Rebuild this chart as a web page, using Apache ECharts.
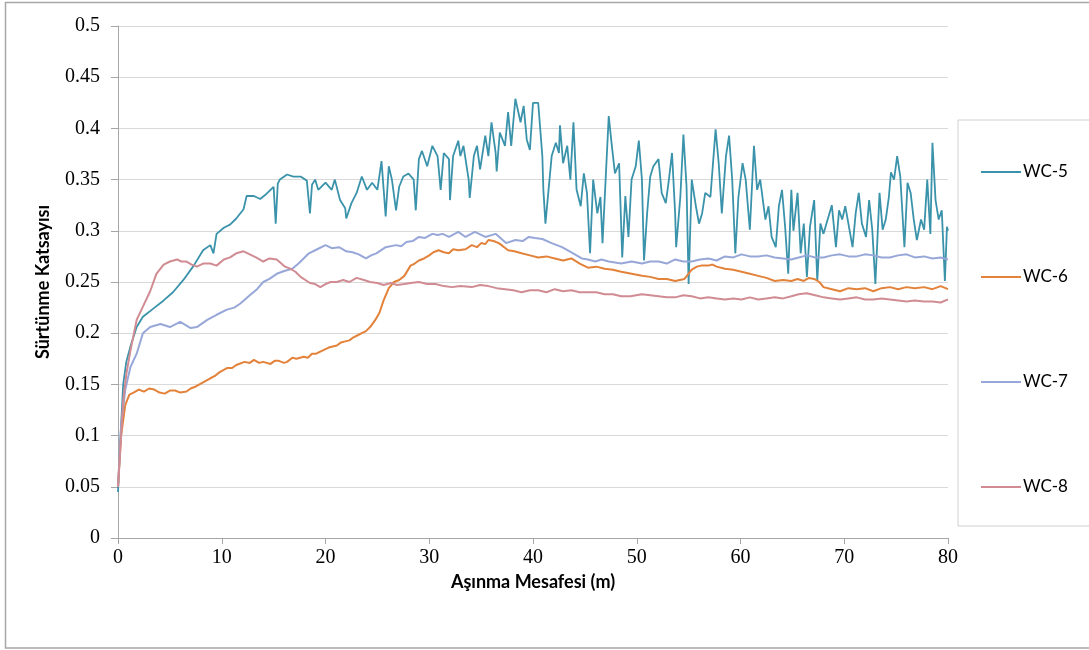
<!DOCTYPE html>
<html>
<head>
<meta charset="utf-8">
<script src="https://cdn.jsdelivr.net/npm/echarts@6/dist/echarts.min.js"></script>
<style>
  html, body { margin: 0; padding: 0; background: #ffffff; }
  #chart { width: 1089px; height: 650px; }
</style>
</head>
<body>
<div id="chart"></div>
<script>
// Friction coefficient vs. wear distance, pairs of [distance (m), coefficient]
const seriesNames = ['WC-5', 'WC-6', 'WC-7', 'WC-8'];

const wc5 = [
  [0,0.045],[0.2,0.09],[0.5,0.15],[0.8,0.172],[1.2,0.187],[1.8,0.206],[2.4,0.216],[3.4,0.224],[4.4,0.232],
  [5.3,0.24],[6.3,0.252],[7.3,0.266],[8.2,0.281],[8.9,0.286],[9.2,0.278],[9.5,0.297],[10.2,0.303],[10.8,0.306],
  [11.4,0.312],[12.1,0.321],[12.4,0.334],[13.1,0.334],[13.7,0.331],[14.3,0.336],[15,0.343],[15.2,0.307],
  [15.4,0.346],[15.6,0.35],[16.3,0.355],[16.9,0.353],[17.6,0.353],[18.2,0.349],[18.5,0.317],[18.7,0.345],
  [19,0.35],[19.3,0.34],[20,0.347],[20.6,0.34],[20.9,0.35],[21.4,0.33],[21.9,0.322],[22,0.312],[22.5,0.327],
  [23,0.337],[23.5,0.353],[24,0.34],[24.5,0.347],[25,0.34],[25.4,0.368],[25.8,0.314],[26.1,0.363],[26.4,0.35],
  [26.8,0.32],[27.1,0.343],[27.5,0.353],[28,0.356],[28.5,0.35],[28.7,0.32],[29,0.37],[29.3,0.378],[29.8,0.363],
  [30.3,0.383],[30.8,0.373],[31.1,0.34],[31.4,0.376],[31.9,0.37],[32,0.33],[32.3,0.373],[32.8,0.388],[33,0.373],
  [33.3,0.383],[33.8,0.35],[33.9,0.332],[34.3,0.373],[34.6,0.383],[34.9,0.36],[35.4,0.393],[35.7,0.373],
  [36,0.406],[36.4,0.376],[36.5,0.358],[36.8,0.396],[37.3,0.383],[37.6,0.416],[37.9,0.383],[38.3,0.429],
  [38.8,0.406],[39.1,0.422],[39.4,0.389],[39.7,0.379],[40,0.425],[40.5,0.425],[40.7,0.399],[40.9,0.373],
  [41,0.34],[41.2,0.307],[41.5,0.34],[41.8,0.373],[42.2,0.386],[42.5,0.376],[42.6,0.403],[42.9,0.366],
  [43.3,0.383],[43.6,0.35],[43.9,0.406],[44.2,0.34],[44.6,0.324],[44.9,0.356],[45.2,0.337],[45.5,0.278],
  [45.8,0.35],[46.2,0.317],[46.5,0.333],[46.7,0.288],[47,0.35],[47.3,0.412],[47.6,0.383],[47.9,0.356],
  [48.3,0.366],[48.6,0.274],[48.9,0.334],[49.2,0.294],[49.5,0.35],[49.9,0.363],[50.2,0.388],[50.5,0.35],
  [50.7,0.271],[51,0.317],[51.3,0.353],[51.6,0.363],[52.1,0.37],[52.4,0.337],[52.8,0.327],[53.1,0.35],
  [53.4,0.376],[53.7,0.317],[53.8,0.284],[54.2,0.333],[54.5,0.394],[54.8,0.343],[55,0.248],[55.3,0.35],
  [55.7,0.324],[56,0.307],[56.3,0.317],[56.6,0.337],[57.1,0.333],[57.6,0.399],[57.9,0.366],[58.2,0.317],
  [58.6,0.373],[58.9,0.393],[59.2,0.35],[59.5,0.278],[59.8,0.333],[60.2,0.366],[60.5,0.35],[60.9,0.301],
  [61.3,0.383],[61.6,0.34],[61.9,0.35],[62.4,0.311],[62.7,0.324],[63,0.294],[63.4,0.284],[63.7,0.324],
  [64,0.34],[64.3,0.304],[64.6,0.258],[64.9,0.34],[65.1,0.3],[65.5,0.337],[65.8,0.278],[66.1,0.307],
  [66.4,0.255],[66.7,0.304],[67.1,0.33],[67.4,0.251],[67.7,0.307],[68,0.297],[68.4,0.311],[68.8,0.325],
  [69.2,0.284],[69.5,0.32],[69.8,0.311],[70.1,0.324],[70.4,0.307],[70.8,0.284],[71.1,0.317],[71.4,0.337],
  [71.7,0.307],[72.1,0.294],[72.4,0.33],[72.7,0.301],[73,0.248],[73.4,0.337],[73.7,0.301],[74,0.311],
  [74.3,0.333],[74.5,0.357],[74.8,0.35],[75.1,0.373],[75.4,0.353],[75.8,0.284],[76.1,0.347],[76.4,0.337],
  [76.7,0.311],[77,0.291],[77.4,0.311],[77.7,0.301],[78,0.35],[78.3,0.297],[78.5,0.386],[78.8,0.33],
  [79.1,0.311],[79.4,0.32],[79.7,0.251],[79.9,0.304],[80,0.3]
];

const wc6 = [
  [0,0.05],[0.3,0.1],[0.7,0.13],[1.1,0.14],[1.5,0.142],[2,0.145],[2.5,0.143],[3,0.146],[3.5,0.145],
  [4,0.142],[4.5,0.141],[5,0.144],[5.5,0.144],[6,0.142],[6.6,0.143],[7,0.146],[7.5,0.148],[8.2,0.152],
  [8.9,0.156],[9.3,0.158],[9.8,0.162],[10.5,0.166],[11,0.166],[11.4,0.169],[12.2,0.172],[12.7,0.171],
  [13.1,0.174],[13.6,0.171],[14,0.172],[14.7,0.17],[15.1,0.173],[15.5,0.173],[16,0.171],[16.3,0.172],
  [16.8,0.176],[17.2,0.175],[17.9,0.177],[18.3,0.176],[18.7,0.18],[19.1,0.18],[19.5,0.182],[20.3,0.186],
  [21.1,0.188],[21.5,0.191],[21.9,0.192],[22.3,0.193],[22.7,0.196],[23.1,0.198],[23.5,0.2],[23.9,0.202],
  [24.3,0.206],[24.8,0.213],[25.2,0.22],[25.6,0.232],[26.1,0.244],[26.6,0.25],[27.1,0.252],[27.6,0.256],
  [28.2,0.266],[28.6,0.268],[29,0.271],[29.5,0.273],[30,0.276],[30.4,0.279],[30.9,0.281],[31.4,0.279],
  [31.9,0.278],[32.3,0.282],[32.8,0.281],[33.5,0.282],[34.1,0.286],[34.6,0.284],[35,0.288],[35.4,0.287],
  [35.7,0.291],[36.2,0.29],[36.7,0.288],[37.1,0.285],[37.6,0.281],[38.2,0.28],[38.9,0.278],[39.7,0.276],
  [40.5,0.274],[41.3,0.275],[42.1,0.273],[42.9,0.271],[43.7,0.273],[44.5,0.268],[45.3,0.264],[46.1,0.265],
  [46.9,0.263],[47.7,0.262],[48.5,0.26],[49.5,0.258],[50.5,0.256],[51.3,0.255],[52.1,0.253],[52.9,0.253],
  [53.7,0.251],[54.6,0.253],[55.3,0.262],[55.8,0.265],[56.2,0.266],[56.9,0.266],[57.3,0.267],[57.7,0.265],
  [58.5,0.263],[59.3,0.262],[60.1,0.26],[60.9,0.258],[61.7,0.256],[62.5,0.254],[63.3,0.251],[64.1,0.252],
  [64.9,0.251],[65.5,0.253],[66.1,0.251],[66.6,0.254],[67.1,0.253],[67.6,0.25],[68,0.245],[68.8,0.243],
  [69.6,0.241],[70.4,0.244],[71.2,0.243],[72,0.244],[72.8,0.241],[73.6,0.244],[74.4,0.245],[75.2,0.243],
  [76,0.245],[76.8,0.244],[77.7,0.245],[78.5,0.243],[79.3,0.246],[80,0.243]
];

const wc7 = [
  [0,0.05],[0.3,0.11],[0.7,0.145],[1.2,0.167],[1.8,0.18],[2.4,0.2],[3.1,0.206],[4.1,0.209],[5,0.206],
  [6,0.211],[7,0.205],[7.6,0.206],[8.6,0.213],[9.5,0.218],[10.5,0.223],[11.2,0.225],[11.8,0.229],[12.7,0.237],
  [13.4,0.243],[14,0.25],[14.6,0.253],[15.3,0.258],[16.1,0.261],[16.8,0.263],[17.4,0.268],[18.4,0.278],
  [19.2,0.282],[20,0.286],[20.6,0.283],[21.3,0.284],[22,0.28],[22.6,0.279],[23.2,0.277],[23.9,0.273],
  [24.4,0.276],[24.9,0.278],[25.8,0.284],[26.8,0.286],[27.3,0.285],[27.8,0.289],[28.4,0.29],[29,0.294],
  [29.6,0.293],[30.3,0.297],[30.8,0.296],[31.3,0.297],[31.9,0.294],[32.8,0.299],[33.5,0.294],[34.4,0.299],
  [35.4,0.294],[36.4,0.297],[37.4,0.288],[38.3,0.291],[39,0.29],[39.6,0.294],[40.2,0.293],[40.9,0.292],
  [41.8,0.288],[42.8,0.284],[43.7,0.279],[44.7,0.273],[45.3,0.272],[46,0.27],[46.6,0.272],[47.3,0.27],
  [48.5,0.268],[49.5,0.27],[50.5,0.268],[51.3,0.27],[52.1,0.27],[52.9,0.268],[53.7,0.272],[54.5,0.27],
  [55.3,0.27],[56.1,0.272],[56.9,0.273],[57.7,0.271],[58.5,0.275],[59.3,0.274],[60.1,0.277],[60.9,0.275],
  [61.7,0.275],[62.5,0.276],[63.3,0.274],[64.1,0.273],[64.9,0.272],[65.6,0.274],[66.4,0.276],[67.2,0.274],
  [68,0.274],[68.8,0.276],[69.6,0.277],[70.4,0.275],[71.2,0.275],[72,0.277],[72.8,0.276],[73.6,0.274],
  [74.4,0.274],[75.2,0.276],[76,0.277],[76.8,0.274],[77.7,0.275],[78.5,0.273],[79.3,0.274],[80,0.272]
];

const wc8 = [
  [0,0.05],[0.3,0.1],[0.5,0.134],[0.8,0.16],[1.2,0.183],[1.8,0.213],[2.4,0.226],[3.1,0.241],[3.7,0.258],
  [4.4,0.267],[5,0.27],[5.7,0.272],[6.1,0.27],[6.6,0.27],[7.1,0.267],[7.6,0.265],[8.2,0.268],[8.9,0.268],
  [9.5,0.266],[10.2,0.272],[10.8,0.274],[11.4,0.278],[12.1,0.28],[12.7,0.277],[13.3,0.274],[14,0.27],
  [14.6,0.273],[15.3,0.272],[16.1,0.265],[16.6,0.263],[17.1,0.26],[17.6,0.255],[18.5,0.249],[19,0.248],
  [19.5,0.245],[20,0.248],[20.5,0.25],[21.1,0.25],[21.7,0.252],[22.3,0.25],[23,0.254],[23.7,0.252],
  [24.3,0.25],[25,0.249],[25.6,0.247],[26.3,0.249],[26.9,0.247],[27.6,0.248],[28.2,0.249],[29,0.25],
  [29.8,0.248],[30.6,0.248],[31.4,0.246],[32.2,0.245],[33,0.246],[34.1,0.245],[34.9,0.247],[35.7,0.246],
  [36.5,0.244],[37.3,0.243],[38.1,0.242],[38.9,0.24],[39.7,0.242],[40.5,0.242],[41.3,0.24],[42.1,0.243],
  [42.9,0.241],[43.7,0.242],[44.5,0.24],[45.3,0.24],[46.1,0.24],[46.9,0.238],[47.7,0.238],[48.5,0.236],
  [49.4,0.236],[50.5,0.238],[51.3,0.237],[52.1,0.236],[52.9,0.235],[53.7,0.235],[54.5,0.237],[55.3,0.236],
  [56.1,0.234],[56.9,0.235],[57.7,0.234],[58.5,0.233],[59.3,0.234],[60.1,0.233],[60.9,0.235],[61.7,0.233],
  [62.5,0.234],[63.3,0.235],[64.1,0.234],[64.9,0.236],[65.6,0.238],[66.4,0.239],[67.2,0.237],[68,0.235],
  [68.8,0.234],[69.6,0.233],[70.4,0.234],[71.2,0.235],[72,0.233],[72.8,0.233],[73.6,0.234],[74.4,0.233],
  [75.2,0.232],[76,0.231],[76.8,0.232],[77.7,0.231],[78.5,0.231],[79.3,0.23],[80,0.233]
];

const seriesData = [wc5, wc6, wc7, wc8];
const seriesColors = ['#3A93AB', '#E3823A', '#97A7D8', '#D08C92'];
const seriesWidths = [1.8, 2, 2, 2];

const xTitle = 'Aşınma Mesafesi (m)';
const yTitle = 'Sürtünme Katsayısı';

const chart = echarts.init(document.getElementById('chart'), null, { renderer: 'canvas' });

const tickFont = { fontFamily: 'Liberation Serif', fontSize: 20, color: '#000' };
const titleFont = { fontFamily: 'Lato', fontWeight: 'bold', fontSize: 18, color: '#000' };

chart.setOption({
  animation: false,
  backgroundColor: '#ffffff',
  grid: { left: 118, right: 141, top: 26, bottom: 112, containLabel: false },
  graphic: [{
    type: 'rect',
    shape: { x: 5.5, y: 2.5, width: 1100, height: 645.5 },
    style: { fill: 'none', stroke: '#a6a6a6', lineWidth: 1.5 },
    silent: true, z: -1
  }],
  legend: {
    orient: 'vertical',
    left: 958, top: 120,
    padding: [43, 60, 30, 23],
    borderColor: '#d0d0d0', borderWidth: 1,
    itemWidth: 40, itemHeight: 2, itemGap: 87,
    icon: 'rect',
    textStyle: { fontFamily: 'Lato', fontSize: 17, color: '#000', lineHeight: 18, padding: [0, 0, 0, -3] },
    data: seriesNames
  },
  xAxis: {
    type: 'value', min: 0, max: 80, interval: 10,
    name: xTitle, nameLocation: 'middle', nameGap: 32,
    nameTextStyle: titleFont,
    axisLine: { show: true, lineStyle: { color: '#a6a6a6', width: 1 } },
    axisTick: { show: true, length: 6, lineStyle: { color: '#a6a6a6' } },
    axisLabel: Object.assign({ margin: 10 }, tickFont),
    splitLine: { show: false }
  },
  yAxis: {
    type: 'value', min: 0, max: 0.5, interval: 0.05,
    name: yTitle, nameLocation: 'middle', nameGap: 66,
    nameTextStyle: titleFont,
    axisLine: { show: true, lineStyle: { color: '#a6a6a6', width: 1 } },
    axisTick: { show: true, length: 7, lineStyle: { color: '#a6a6a6' } },
    axisLabel: Object.assign({ margin: 18, formatter: v => String(+v.toFixed(2)) }, tickFont),
    splitLine: { show: true, lineStyle: { color: '#d9d9d9', width: 1 } }
  },
  series: seriesNames.map((name, i) => ({
    name: name,
    type: 'line',
    data: seriesData[i],
    showSymbol: false,
    symbol: 'none',
    color: seriesColors[i],
    lineStyle: { color: seriesColors[i], width: seriesWidths[i] },
    silent: true
  }))
});
</script>
</body>
</html>
